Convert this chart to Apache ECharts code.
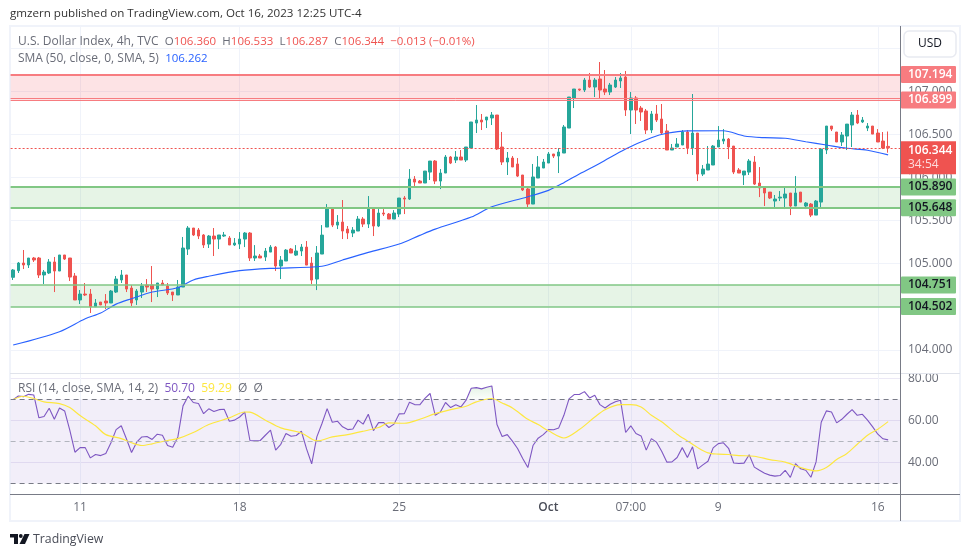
<!DOCTYPE html>
<html>
<head>
<meta charset="utf-8">
<title>U.S. Dollar Index</title>
<script src="https://cdn.jsdelivr.net/npm/echarts@6/dist/echarts.min.js"></script>
<style>
html, body { margin: 0; padding: 0; background: #fff; }
#chart { width: 970px; height: 557px; }
</style>
</head>
<body>
<div id="chart"></div>
<script>
// candles, 4h bars
var opens = [
104.841,104.918,105.007,104.984,105.065,105.065,104.868,104.891,105.019,104.914,
105.100,105.065,104.856,104.578,104.647,104.647,104.500,104.554,104.566,104.543,
104.670,104.810,104.868,104.717,104.578,104.670,104.752,104.752,104.705,104.775,
104.740,104.670,104.636,104.728,105.169,105.413,105.390,105.332,105.227,105.320,
105.285,105.320,105.297,105.216,105.227,105.285,105.355,105.065,105.088,105.076,
105.134,105.192,104.972,105.030,105.169,105.099,105.146,105.192,105.006,104.821,
105.111,105.424,105.633,105.447,105.482,105.401,105.355,105.378,105.517,105.459,
105.645,105.436,105.587,105.575,105.517,105.575,105.761,105.749,105.981,105.958,
105.935,106.062,106.190,105.958,106.051,106.237,106.202,106.237,106.202,106.341,
106.631,106.666,106.666,106.690,106.724,106.353,106.179,106.225,106.156,106.028,
105.866,105.691,105.993,106.109,106.167,106.272,106.248,106.283,106.573,106.922,
107.026,107.014,107.130,107.049,107.142,107.026,106.991,107.049,107.119,107.165,
106.782,106.922,106.805,106.771,106.550,106.736,106.678,106.539,106.318,106.353,
106.376,106.527,106.341,106.515,106.039,106.086,106.144,106.353,106.422,106.445,
106.364,106.086,106.028,106.062,106.179,105.935,105.888,105.830,105.726,105.761,
105.761,105.819,105.668,105.830,105.668,105.691,105.563,105.714,106.318,106.596,
106.527,106.411,106.480,106.608,106.724,106.643,106.573,106.596,106.515,106.422,106.360];

var closes = [
104.926,105.007,104.984,105.065,105.042,104.868,104.902,105.019,104.914,105.100,
105.053,104.844,104.578,104.647,104.636,104.500,104.543,104.520,104.543,104.682,
104.821,104.868,104.705,104.543,104.682,104.740,104.728,104.705,104.775,104.752,
104.659,104.636,104.728,105.181,105.413,105.332,105.320,105.216,105.320,105.285,
105.332,105.332,105.216,105.239,105.285,105.355,105.065,105.088,105.065,105.146,
105.192,104.972,105.041,105.157,105.123,105.146,105.192,104.983,104.809,105.123,
105.331,105.633,105.447,105.482,105.378,105.355,105.389,105.517,105.459,105.645,
105.436,105.587,105.575,105.517,105.587,105.761,105.749,105.981,105.946,105.935,
106.074,106.190,105.958,106.051,106.237,106.167,106.237,106.202,106.353,106.643,
106.666,106.643,106.701,106.724,106.330,106.179,106.225,106.121,106.016,105.854,
105.691,106.005,106.121,106.179,106.272,106.248,106.295,106.585,106.933,107.026,
107.014,107.130,107.049,107.130,107.014,106.991,107.072,107.130,107.154,106.782,
106.922,106.782,106.759,106.550,106.736,106.666,106.515,106.318,106.341,106.388,
106.527,106.341,106.515,106.039,106.097,106.155,106.364,106.434,106.445,106.353,
106.062,106.051,106.074,106.190,105.923,105.877,105.819,105.761,105.749,105.772,
105.807,105.668,105.819,105.714,105.703,105.563,105.726,106.329,106.596,106.561,
106.411,106.492,106.619,106.724,106.631,106.666,106.596,106.503,106.411,106.341,106.344];

var lows = [
104.810,104.891,104.937,104.949,105.019,104.833,104.763,104.879,104.670,104.914,
105.042,104.798,104.578,104.531,104.624,104.427,104.500,104.520,104.473,104.543,
104.659,104.775,104.670,104.508,104.520,104.601,104.670,104.554,104.612,104.752,
104.636,104.566,104.636,104.728,105.100,105.320,105.285,105.181,105.181,105.088,
105.169,105.309,105.216,105.204,105.169,105.192,105.030,105.030,105.065,105.030,
105.134,104.914,104.821,105.030,105.123,105.088,105.088,104.983,104.763,104.693,
105.111,105.424,105.424,105.401,105.285,105.285,105.308,105.378,105.424,105.413,
105.320,105.424,105.552,105.517,105.517,105.540,105.575,105.738,105.900,105.935,
105.935,105.970,105.923,105.865,106.051,106.155,106.167,106.202,106.179,106.341,
106.515,106.550,106.573,106.608,106.318,106.144,106.028,106.121,106.005,105.842,
105.657,105.691,105.993,106.109,106.167,106.225,106.051,106.283,106.573,106.805,
107.003,106.991,107.038,106.933,106.910,106.956,106.956,107.038,107.038,106.713,
106.504,106.620,106.655,106.504,106.515,106.643,106.504,106.318,106.318,106.353,
106.376,106.271,106.260,105.958,106.016,106.086,106.144,106.353,106.387,106.213,
106.039,106.051,105.912,106.028,105.912,105.772,105.668,105.749,105.656,105.726,
105.633,105.563,105.668,105.714,105.633,105.540,105.563,105.656,106.271,106.538,
106.411,106.364,106.318,106.353,106.619,106.631,106.538,106.503,106.411,106.329,106.287];

var highs = [
104.937,105.019,105.158,105.065,105.077,105.077,104.926,105.053,105.077,105.100,
105.100,105.065,104.891,104.694,104.775,104.705,104.589,104.554,104.647,104.694,
104.856,104.926,104.868,104.752,104.705,104.775,104.821,104.972,104.775,104.810,
104.775,104.670,104.810,105.309,105.436,105.413,105.413,105.343,105.332,105.413,
105.332,105.367,105.320,105.297,105.366,105.366,105.366,105.215,105.111,105.181,
105.215,105.204,105.088,105.169,105.181,105.215,105.227,105.262,105.076,105.204,
105.447,105.691,105.633,105.563,105.738,105.436,105.424,105.552,105.540,105.784,
105.645,105.656,105.633,105.587,105.621,105.761,105.784,106.097,106.016,105.970,
106.074,106.190,106.202,106.097,106.260,106.248,106.306,106.318,106.353,106.643,
106.840,106.736,106.701,106.759,106.724,106.527,106.295,106.248,106.225,106.028,
105.877,106.156,106.248,106.214,106.295,106.272,106.341,106.608,106.933,107.026,
107.026,107.154,107.212,107.154,107.339,107.246,107.096,107.165,107.212,107.235,
106.991,106.945,106.829,106.794,106.771,106.840,106.852,106.620,106.388,106.457,
106.550,106.550,106.968,106.515,106.144,106.364,106.376,106.596,106.561,106.457,
106.364,106.109,106.074,106.213,106.248,106.120,105.888,105.830,105.796,105.842,
105.888,105.819,106.016,105.830,105.714,105.703,105.738,106.341,106.596,106.596,
106.527,106.527,106.619,106.759,106.782,106.701,106.631,106.596,106.561,106.527,106.533];

// SMA 50, read at the bars where the curve bends
var smaBars = [0,9,14,17,20,23,27,32,35,38,44,50,60,64,69,75,79,82,89,93,100,104,107,110,114,119,124,127,131,138,142,146,150,154,158,162,166,170];
var smaValues = [104.055,104.21,104.36,104.427,104.53,104.593,104.67,104.72,104.81,104.853,104.918,104.945,104.969,105.042,105.13,105.227,105.328,105.40,105.54,105.66,105.776,105.85,105.939,106.04,106.164,106.33,106.46,106.512,106.54,106.542,106.481,106.461,106.454,106.414,106.376,106.338,106.316,106.262];

var rsiValues = [
70.0,71.7,71.4,72.5,72.2,61.3,61.9,65.9,60.6,66.0,
64.6,55.4,44.9,47.1,47.1,42.2,43.8,43.3,44.3,49.4,
55.7,57.5,51.3,44.8,49.7,52.2,52.4,51.0,53.5,53.0,
48.1,47.3,52.2,67.0,71.6,68.6,68.1,63.3,65.6,64.3,
65.2,65.4,59.7,60.2,61.7,64.0,50.5,50.3,50.5,53.0,
55.4,45.9,48.7,53.8,52.5,52.9,54.9,46.5,39.4,52.2,
58.6,65.7,59.2,59.7,57.0,55.7,56.0,60.2,58.3,63.0,
55.2,59.0,59.0,56.7,58.3,63.2,63.3,68.7,67.6,67.5,
70.6,72.9,62.5,64.1,68.6,66.2,67.5,66.5,69.7,75.4,
75.7,75.1,75.9,76.5,58.1,52.4,53.3,50.2,46.7,41.9,
37.6,48.1,51.6,53.3,55.7,55.6,56.5,62.5,70.3,72.4,
72.4,73.8,70.8,72.1,67.6,66.0,67.8,69.0,69.7,54.3,
57.5,53.8,52.7,45.9,51.4,49.7,45.4,40.2,40.3,42.4,
47.1,42.4,47.5,37.0,38.9,40.6,47.0,49.0,49.4,46.8,
39.8,39.5,39.7,43.7,37.8,36.3,34.9,34.0,33.5,33.8,
36.3,32.9,39.5,37.0,36.3,33.0,40.3,59.2,64.6,64.1,
58.9,60.6,63.0,65.2,62.5,63.0,60.2,57.0,53.5,51.3,50.8];

var rsiMaBars = [0,2,4,6,9,11,13,16,18,21,23,25,27,30,32,35,38,42,45,46,49,52,56,59,62,65,68,71,73,76,79,82,85,88,90,93,95,97,100,102,104,107,110,113,115,118,120,122,124,126,129,131,133,135,137,139,141,144,147,150,153,156,158,160,162,164,166,168,170];
var rsiMaValues = [70.0,71.6,70.5,68.9,68.1,66.2,62.4,57.5,53.3,51.4,49.4,48.1,48.9,50.5,51.4,54.3,58.1,61.3,64.1,64.0,60.2,56.5,54.1,50.3,52.2,53.3,54.9,56.7,58.9,58.7,60.6,63.3,65.2,66.8,68.9,70.5,68.4,66.0,60.6,58.1,55.1,51.7,55.7,61.7,65.2,67.6,67.6,66.5,62.5,59.4,53.5,50.3,47.1,44.6,44.0,43.8,43.3,43.0,41.4,40.2,37.6,36.0,37.6,41.4,44.3,48.7,53.0,55.9,59.5];

// time axis, two blank slots after the last bar
var barCount = 173;
var tickBars = [13, 44, 75, 104, 120, 137, 168];
var tickLabels = ['11', '18', '25', 'Oct', '07:00', '9', '16'];

var priceTicks = [104, 104.5, 105, 105.5, 106, 106.5, 107, 107.5];
var rsiTicks = [40, 60, 80];

var redZone = [107.194, 106.899];
var redZoneExtra = 106.922;
var greenZoneHigh = [105.89, 105.648];
var greenZoneLow = [104.751, 104.502];
var lastPrice = 106.344;
var countdown = '34:54';

var headerText = 'gmzern published on TradingView.com, Oct 16, 2023 12:25 UTC-4';

var upColor = '#26a69a';
var downColor = '#ef5350';
var fontName = '"Open Sans", sans-serif';

var categories = [];
for (var c = 0; c < barCount; c++) {
    var at = tickBars.indexOf(c);
    categories.push(at >= 0 ? tickLabels[at] : '');
}

var candleData = opens.map(function (o, i) {
    return [o, closes[i], lows[i], highs[i]];
});

function pairs(xs, ys) {
    return xs.map(function (x, i) { return [x, ys[i]]; });
}

function isTick(index) {
    return tickBars.indexOf(index) >= 0;
}

function levelLine(value, color, width, labelBg, labelColor) {
    var item = {
        yAxis: value,
        lineStyle: { color: color, width: width, type: 'solid' },
        label: { show: false }
    };
    if (labelBg) {
        item.label = {
            show: true,
            position: 'end',
            distance: 0,
            formatter: value.toFixed(3),
            backgroundColor: labelBg,
            color: labelColor,
            fontFamily: fontName,
            fontSize: 12,
            fontWeight: 600,
            lineHeight: 13,
            width: 48,
            padding: [2, 0, 2, 7],
            borderRadius: 1
        };
    }
    return item;
}

var chart = echarts.init(document.getElementById('chart'), null, { renderer: 'canvas' });

var xAxisCommon = {
    type: 'category',
    data: categories,
    boundaryGap: true,
    axisLine: { show: false },
    axisTick: { show: false, interval: function (i) { return isTick(i); } },
    splitLine: {
        show: true,
        alignWithLabel: true,
        interval: function (i) { return isTick(i); },
        lineStyle: { color: '#f0f3fa', width: 1 }
    }
};

var option = {
    animation: false,
    backgroundColor: '#fff',
    textStyle: { fontFamily: fontName },
    grid: [
        { left: 10.6, top: 26, width: 890.4, height: 347.5 },
        { left: 10.6, top: 373.5, width: 890.4, height: 121 }
    ],
    xAxis: [
        Object.assign({}, xAxisCommon, { gridIndex: 0, axisLabel: { show: false } }),
        Object.assign({}, xAxisCommon, {
            gridIndex: 1,
            axisLabel: {
                show: true,
                interval: 0,
                margin: 7,
                color: '#6a6d78',
                fontSize: 12,
                fontFamily: fontName,
                hideOverlap: false,
                formatter: function (v) { return v === 'Oct' ? '{b|Oct}' : v; },
                rich: { b: { fontWeight: 600, color: '#4a4d58', fontSize: 12, fontFamily: fontName } }
            }
        })
    ],
    yAxis: [
        {
            gridIndex: 0,
            type: 'value',
            position: 'right',
            min: 103.725,
            max: 107.757,
            scale: true,
            axisLine: { show: false },
            axisTick: { show: false, customValues: priceTicks },
            splitLine: { show: true, lineStyle: { color: '#f0f3fa', width: 1 } },
            axisLabel: {
                customValues: priceTicks,
                margin: 7,
                color: '#6a6d78',
                fontSize: 12,
                fontFamily: fontName,
                formatter: function (v) { return v.toFixed(3); }
            }
        },
        {
            gridIndex: 1,
            type: 'value',
            position: 'right',
            min: 24.76,
            max: 82.43,
            axisLine: { show: false },
            axisTick: { show: false, customValues: rsiTicks },
            splitLine: { show: true, lineStyle: { color: '#ebe8f5', width: 1 } },
            axisLabel: {
                customValues: rsiTicks,
                margin: 7,
                color: '#6a6d78',
                fontSize: 12,
                fontFamily: fontName,
                formatter: function (v) { return v.toFixed(2); }
            }
        }
    ],
    series: [
        {
            name: 'DXY',
            type: 'candlestick',
            xAxisIndex: 0,
            yAxisIndex: 0,
            data: candleData,
            barWidth: 3,
            itemStyle: {
                color: upColor,
                color0: downColor,
                borderColor: upColor,
                borderColor0: downColor,
                borderWidth: 1
            },
            markArea: {
                silent: true,
                data: [
                    [{ yAxis: redZone[0], itemStyle: { color: 'rgba(242,54,69,0.14)' } }, { yAxis: redZone[1] }],
                    [{ yAxis: greenZoneHigh[0], itemStyle: { color: 'rgba(76,175,80,0.14)' } }, { yAxis: greenZoneHigh[1] }],
                    [{ yAxis: greenZoneLow[0], itemStyle: { color: 'rgba(76,175,80,0.14)' } }, { yAxis: greenZoneLow[1] }]
                ]
            },
            markLine: {
                silent: true,
                symbol: 'none',
                precision: 3,
                data: [
                    levelLine(redZone[0], '#f77c80', 2, '#f77c80', '#fff'),
                    levelLine(redZoneExtra, '#f77c80', 1),
                    levelLine(redZone[1], '#f77c80', 1, '#f77c80', '#fff'),
                    levelLine(greenZoneHigh[0], '#81c784', 2, '#81c784', '#131722'),
                    levelLine(greenZoneHigh[1], '#81c784', 2, '#81c784', '#131722'),
                    levelLine(greenZoneLow[0], '#81c784', 1.5, '#81c784', '#131722'),
                    levelLine(greenZoneLow[1], '#81c784', 1.5, '#81c784', '#131722'),
                    {
                        yAxis: lastPrice,
                        lineStyle: { color: downColor, width: 1, type: [2, 2] },
                        label: {
                            show: true,
                            position: 'end',
                            distance: 0,
                            offset: [0, 10],
                            formatter: '{p|' + lastPrice.toFixed(3) + '}\n{t|' + countdown + '}',
                            backgroundColor: downColor,
                            width: 48,
                            padding: [2, 0, 3, 7],
                            rich: {
                                p: { color: '#fff', fontWeight: 600, fontSize: 12, lineHeight: 14, fontFamily: fontName },
                                t: { color: '#fcdcdc', fontSize: 12, lineHeight: 14, fontFamily: fontName }
                            }
                        }
                    }
                ]
            }
        },
        {
            name: 'SMA',
            type: 'line',
            xAxisIndex: 0,
            yAxisIndex: 0,
            data: pairs(smaBars, smaValues),
            showSymbol: false,
            smooth: 0.3,
            lineStyle: { color: '#2962ff', width: 1.15 },
            z: 3
        },
        {
            name: 'RSI',
            type: 'line',
            xAxisIndex: 1,
            yAxisIndex: 1,
            data: rsiValues,
            showSymbol: false,
            lineStyle: { color: '#7e57c2', width: 1.1 },
            z: 3,
            markArea: {
                silent: true,
                data: [[{ yAxis: 70, itemStyle: { color: 'rgba(126,87,194,0.1)' } }, { yAxis: 30 }]]
            },
            markLine: {
                silent: true,
                symbol: 'none',
                label: { show: false },
                data: [
                    { yAxis: 70, lineStyle: { color: '#787b86', type: [5, 4], width: 1 } },
                    { yAxis: 50, lineStyle: { color: '#b2b5be', type: [5, 4], width: 1 } },
                    { yAxis: 30, lineStyle: { color: '#787b86', type: [5, 4], width: 1 } }
                ]
            }
        },
        {
            name: 'RSI overbought',
            type: 'line',
            xAxisIndex: 1,
            yAxisIndex: 1,
            data: pairs([88, 89, 90, 91, 92, 93], rsiValues.slice(88, 94)),
            showSymbol: false,
            lineStyle: { opacity: 0 },
            areaStyle: {
                origin: 70,
                color: new echarts.graphic.LinearGradient(0, 0, 0, 1, [
                    { offset: 0, color: 'rgba(76,175,80,0.22)' },
                    { offset: 1, color: 'rgba(76,175,80,0.02)' }
                ])
            },
            z: 2
        },
        {
            name: 'RSI MA',
            type: 'line',
            xAxisIndex: 1,
            yAxisIndex: 1,
            data: pairs(rsiMaBars, rsiMaValues),
            showSymbol: false,
            smooth: 0.3,
            lineStyle: { color: '#fde73f', width: 1.15 },
            z: 3
        }
    ],
    graphic: [
        // frame, scale lines
        { type: 'rect', silent: true, z: 0, shape: { x: 10, y: 26, width: 950, height: 495 },
          style: { fill: 'none', stroke: '#f0f3fa', lineWidth: 2 } },
        { type: 'line', silent: true, z: 1, shape: { x1: 10, y1: 373.5, x2: 960, y2: 373.5 },
          style: { stroke: '#e0e3eb', lineWidth: 1 } },
        { type: 'line', silent: true, z: 50, shape: { x1: 10, y1: 494.5, x2: 960, y2: 494.5 },
          style: { stroke: '#787b86', lineWidth: 1 } },
        { type: 'line', silent: true, z: 50, shape: { x1: 900.5, y1: 26, x2: 900.5, y2: 521 },
          style: { stroke: '#787b86', lineWidth: 1 } },
        // USD button
        { type: 'rect', silent: true, z: 40, shape: { x: 904, y: 31, width: 52, height: 26, r: 5 },
          style: { fill: '#fff', stroke: '#e8eaf1', lineWidth: 1.5 } },
        { type: 'text', silent: true, z: 41, x: 930, y: 44,
          style: { text: 'USD', fill: '#131722', font: '12px ' + fontName, textAlign: 'center', textVerticalAlign: 'middle' } },
        // header and legends
        { type: 'text', silent: true, z: 41, x: 10, y: 14,
          style: { text: headerText, fill: '#333', font: '11.6px ' + fontName, textVerticalAlign: 'middle' } },
        { type: 'text', silent: true, z: 41, x: 18, y: 42,
          style: {
              text: '{g|U.S. Dollar Index, 4h, TVC}  {v|O}{r|106.360}  {v|H}{r|106.533}  {v|L}{r|106.287}  {v|C}{r|106.344}  {r|\u22120.013 (\u22120.01%)}',
              font: '12px ' + fontName,
              textVerticalAlign: 'middle',
              rich: {
                  g: { fill: '#6a6d78', font: '12px ' + fontName },
                  v: { fill: '#6a6d78', font: '11.5px ' + fontName },
                  r: { fill: downColor, font: '11.5px ' + fontName }
              }
          } },
        { type: 'text', silent: true, z: 41, x: 18, y: 59,
          style: {
              text: '{g|SMA (50, close, 0, SMA, 5)}  {b|106.262}',
              font: '12px ' + fontName,
              textVerticalAlign: 'middle',
              rich: { g: { fill: '#6a6d78', font: '12px ' + fontName }, b: { fill: '#2962ff', font: '11.5px ' + fontName } }
          } },
        { type: 'text', silent: true, z: 41, x: 18, y: 389,
          style: {
              text: '{g|RSI (14, close, SMA, 14, 2)}  {p|50.70}  {y|59.29}  {g|\u00d8}  {g|\u00d8}',
              font: '12px ' + fontName,
              textVerticalAlign: 'middle',
              rich: {
                  g: { fill: '#6a6d78', font: '12px ' + fontName },
                  p: { fill: '#7e57c2', font: '12px ' + fontName },
                  y: { fill: '#fde73f', font: '12px ' + fontName }
              }
          } },
        // TradingView mark
        { type: 'polygon', silent: true, shape: { points: [[10, 534], [18, 534], [18, 544], [14, 544], [14, 537.5], [10, 537.5]] },
          style: { fill: '#131722' } },
        { type: 'circle', silent: true, shape: { cx: 20.8, cy: 536, r: 1.9 }, style: { fill: '#131722' } },
        { type: 'polygon', silent: true, shape: { points: [[24.5, 534], [29.5, 534], [25, 544], [19.5, 544]] },
          style: { fill: '#131722' } },
        { type: 'text', silent: true, x: 33, y: 539,
          style: { text: 'TradingView', fill: '#4a4d58', font: '12.3px ' + fontName, textVerticalAlign: 'middle' } }
    ]
};

chart.setOption(option);
</script>
</body>
</html>
